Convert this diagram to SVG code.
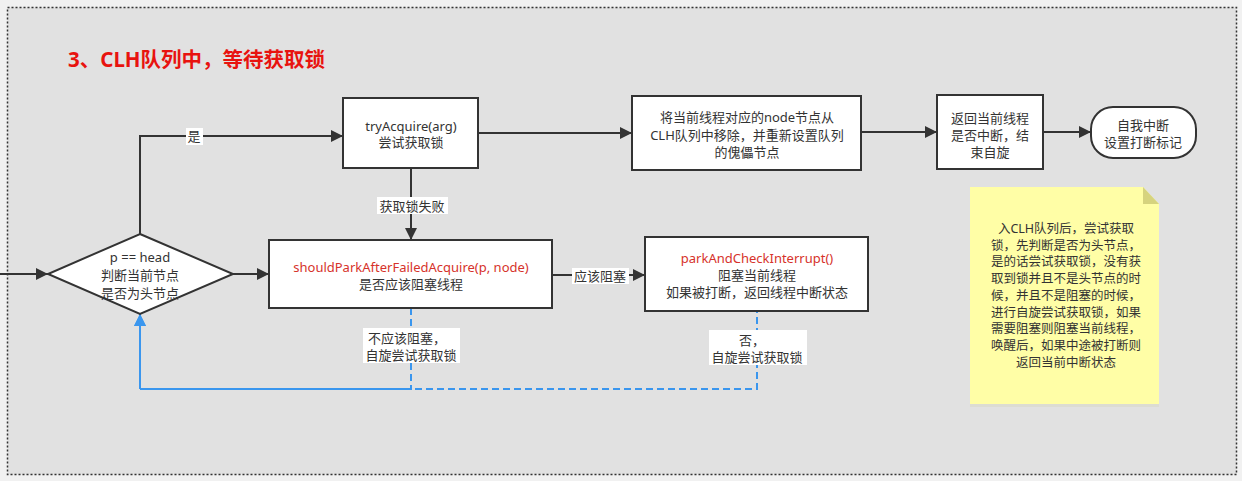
<svg xmlns="http://www.w3.org/2000/svg" width="1242" height="481" viewBox="0 0 1242 481">
<style>
.box{fill:#fff;stroke:#333;stroke-width:2}
.t{font-family:"Noto Sans","Noto Sans CJK SC",sans-serif;font-size:13px;fill:#333;text-anchor:middle}
.r{fill:#d6322b}
.e{fill:none;stroke:#333;stroke-width:2}
.b{fill:none;stroke:#3a96ee;stroke-width:2;stroke-dasharray:7 4}
.lb{fill:#fff}
</style>
<defs>
<marker id="ah" markerUnits="userSpaceOnUse" markerWidth="14" markerHeight="12" refX="12" refY="6" orient="auto">
<path d="M0,0 L12,6 L0,12 Z" fill="#333"/>
</marker>
<marker id="ahb" markerUnits="userSpaceOnUse" markerWidth="14" markerHeight="12" refX="12" refY="6" orient="auto">
<path d="M0,0 L12,6 L0,12 Z" fill="#3a96ee"/>
</marker>
</defs>
<rect x="0" y="0" width="1242" height="481" fill="#f1f1f1"/>
<rect x="7.5" y="7.5" width="1229" height="467" fill="#e1e1e1" stroke="#333" stroke-width="1.5" stroke-dasharray="2 2"/>
<text x="68" y="67" font-family="'Noto Sans','Noto Sans CJK SC',sans-serif" font-size="20.5" font-weight="bold" fill="#e8130f">3、CLH队列中，等待获取锁</text>

<g id="connectors">
<path class="e" d="M0,274 H48" marker-end="url(#ah)"/>
<path class="e" d="M140,234 V136 H343" marker-end="url(#ah)"/>
<path class="e" d="M478,133 H632" marker-end="url(#ah)"/>
<path class="e" d="M861,132 H937" marker-end="url(#ah)"/>
<path class="e" d="M1043,132 H1091" marker-end="url(#ah)"/>
<path class="e" d="M411,168 V240" marker-end="url(#ah)"/>
<path class="e" d="M233,274 H269" marker-end="url(#ah)"/>
<path class="e" d="M552,275 H645" marker-end="url(#ah)"/>
<path class="b" d="M411,308 V389 H140 V314" marker-end="url(#ahb)"/>
<path class="b" d="M757,311 V389 H140 V314" stroke-dashoffset="5" marker-end="url(#ahb)"/>
<rect class="lb" x="186" y="128" width="17" height="17"/>
<text class="t" x="194" y="141">是</text>
<rect class="lb" x="377" y="197" width="71" height="17"/>
<text class="t" x="412" y="211">获取锁失败</text>
<rect class="lb" x="572" y="268" width="57" height="16"/>
<text class="t" x="600" y="281">应该阻塞</text>
<rect class="lb" x="363" y="328" width="97" height="35"/>
<text class="t" x="407" y="343">不应该阻塞，</text>
<text class="t" x="411" y="360">自旋尝试获取锁</text>
<rect class="lb" x="709" y="330" width="98" height="35"/>
<text class="t" x="752" y="345">否，</text>
<text class="t" x="757" y="362">自旋尝试获取锁</text>
</g>

<g id="decision">
<path class="box" d="M140,234 L233,274 L140,314 L48,274 Z"/>
<text class="t" x="140" y="262">p == head</text>
<text class="t" x="140" y="280">判断当前节点</text>
<text class="t" x="140" y="298">是否为头节点</text>
</g>

<g id="tryAcquire">
<rect class="box" x="343" y="98" width="135" height="70"/>
<text class="t" x="411" y="131">tryAcquire(arg)</text>
<text class="t" x="411" y="147">尝试获取锁</text>
</g>

<g id="removeNode">
<rect class="box" x="632" y="96" width="229" height="74"/>
<text class="t" x="747" y="122">将当前线程对应的node节点从</text>
<text class="t" x="747" y="140">CLH队列中移除，并重新设置队列</text>
<text class="t" x="747" y="157">的傀儡节点</text>
</g>

<g id="returnInterrupt">
<rect class="box" x="937" y="95" width="106" height="74"/>
<text class="t" x="990" y="123">返回当前线程</text>
<text class="t" x="990" y="140">是否中断，结</text>
<text class="t" x="990" y="157">束自旋</text>
</g>

<g id="selfInterrupt">
<rect class="box" x="1091" y="107" width="105" height="51" rx="22" ry="22"/>
<text class="t" x="1143" y="130">自我中断</text>
<text class="t" x="1143" y="147">设置打断标记</text>
</g>

<g id="shouldPark">
<rect class="box" x="269" y="240" width="283" height="68"/>
<text class="t r" x="411" y="272">shouldParkAfterFailedAcquire(p, node)</text>
<text class="t" x="411" y="289">是否应该阻塞线程</text>
</g>

<g id="parkAndCheck">
<rect class="box" x="645" y="237" width="223" height="74"/>
<text class="t r" x="757" y="263">parkAndCheckInterrupt()</text>
<text class="t" x="757" y="280">阻塞当前线程</text>
<text class="t" x="757" y="297">如果被打断，返回线程中断状态</text>
</g>

<g id="note">
<rect x="970" y="404" width="189" height="3" fill="#d8d8c8" opacity="0.6"/>
<path d="M970,187 H1143 L1159,204 V404 H970 Z" fill="#fffea6"/>
<path d="M1143,187 L1159,204 H1143 Z" fill="#d6d37e"/>
<g class="t" style="font-size:12.5px">
<text x="1066" y="233">入CLH队列后，尝试获取</text>
<text x="1066" y="250">锁，先判断是否为头节点，</text>
<text x="1066" y="266">是的话尝试获取锁，没有获</text>
<text x="1066" y="283">取到锁并且不是头节点的时</text>
<text x="1066" y="300">候，并且不是阻塞的时候，</text>
<text x="1066" y="317">进行自旋尝试获取锁，如果</text>
<text x="1066" y="333">需要阻塞则阻塞当前线程，</text>
<text x="1066" y="350">唤醒后，如果中途被打断则</text>
<text x="1066" y="367">返回当前中断状态</text>
</g>
</g>
</svg>
